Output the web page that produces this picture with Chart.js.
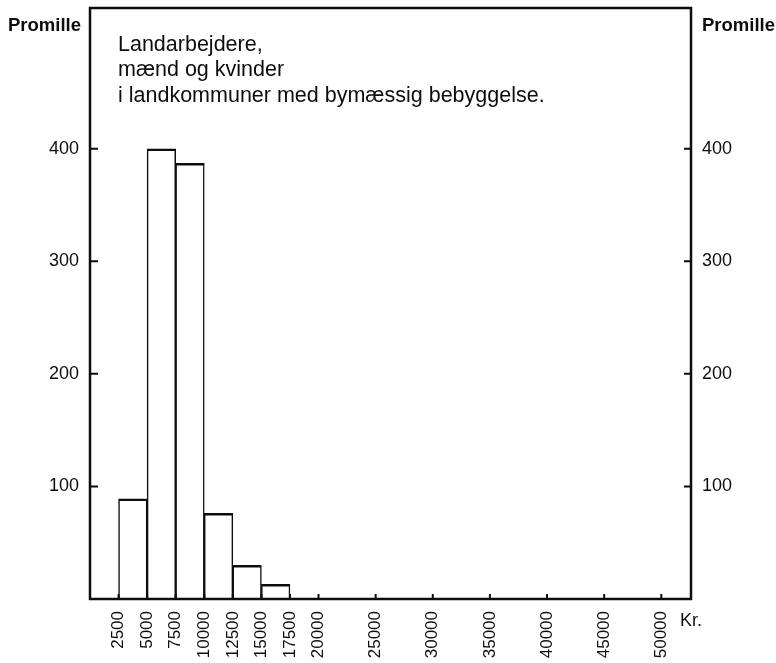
<!DOCTYPE html>
<html>
<head>
<meta charset="utf-8">
<script src="https://cdn.jsdelivr.net/npm/chart.js@4.4.1/dist/chart.umd.min.js"></script>
<style>
  html, body { margin: 0; padding: 0; background: #fff; }
  #wrap { width: 776px; height: 663px; position: relative; }
</style>
</head>
<body>
<div id="wrap"><canvas id="myChart"></canvas></div>
<script>
var binStarts = [2500, 5000, 7500, 10000, 12500, 15000];
var binWidth = 2500;
var promille = [89, 400, 387, 76, 30, 13];
var xTicks = [2500, 5000, 7500, 10000, 12500, 15000, 17500, 20000, 25000, 30000, 35000, 40000, 45000, 50000];
var yTicks = [100, 200, 300, 400];
var titleLines = ["Landarbejdere,", "mænd og kvinder", "i landkommuner med bymæssig bebyggelse."];

var ink = "#0d0d0d";
var fontFamily = "'Liberation Sans', Arial, Helvetica, sans-serif";

Chart.defaults.font.family = fontFamily;
Chart.defaults.color = ink;

// one point per bin, centred, so the bar spans the whole bin
var bars = binStarts.map(function (start, i) {
  return { x: start + binWidth / 2, y: promille[i] };
});

function fixTicks(values) {
  return function (scale) {
    scale.ticks = values.map(function (v) { return { value: v }; });
  };
}

// frame, inward tick marks and the loose texts
var frameAndTicks = {
  id: "frameAndTicks",
  afterDatasetsDraw: function (chart) {
    var ctx = chart.ctx;
    var a = chart.chartArea;
    var x = chart.scales.x, y = chart.scales.y, y2 = chart.scales.y2;
    ctx.save();
    ctx.strokeStyle = ink;
    ctx.lineWidth = 2.5;
    ctx.strokeRect(a.left, a.top, a.right - a.left, a.bottom - a.top);
    ctx.lineWidth = 2;
    ctx.beginPath();
    yTicks.forEach(function (v) {
      var py = y.getPixelForValue(v);
      ctx.moveTo(a.left, py);
      ctx.lineTo(a.left + 8, py);
      var py2 = y2.getPixelForValue(v);
      ctx.moveTo(a.right, py2);
      ctx.lineTo(a.right - 7, py2);
    });
    xTicks.forEach(function (v) {
      var px = x.getPixelForValue(v);
      ctx.moveTo(px, a.bottom);
      ctx.lineTo(px, a.bottom - 5);
    });
    ctx.stroke();

    ctx.fillStyle = ink;
    ctx.textBaseline = "middle";
    ctx.textAlign = "left";
    ctx.font = "bold 18.5px " + fontFamily;
    ctx.fillText("Promille", 8, 26);
    ctx.fillText("Promille", a.right + 11, 26);
    ctx.font = "21.5px " + fontFamily;
    titleLines.forEach(function (line, i) {
      ctx.fillText(line, a.left + 28, 45 + i * 25.5);
    });
    ctx.font = "18px " + fontFamily;
    ctx.fillText("Kr.", a.right - 11, 621);
    ctx.restore();
  }
};

var config = {
  type: "bar",
  data: {
    datasets: [
      {
        label: "Promille",
        data: bars,
        backgroundColor: "#fff",
        borderColor: ink,
        borderWidth: { top: 2.5, left: 1.5, right: 1.5, bottom: 0 },
        borderSkipped: false,
        barPercentage: 1,
        categoryPercentage: 1,
      },
    ],
  },
  options: {
    responsive: true,
    maintainAspectRatio: false,
    animation: false,
    layout: { padding: { top: 8, left: 0, right: 0, bottom: 0 } },
    plugins: { legend: { display: false }, tooltip: { enabled: false } },
    scales: {
      x: {
        type: "linear",
        offset: false,
        min: 0,
        max: 52600,
        grid: { display: false, drawTicks: false, offset: false },
        border: { display: false },
        afterBuildTicks: fixTicks(xTicks),
        ticks: {
          autoSkip: false,
          minRotation: 90,
          maxRotation: 90,
          padding: 12,
          font: { size: 17 },
          callback: function (v) { return String(v); },
        },
        afterFit: function (s) { s.height = 64; s.paddingLeft = 0; s.paddingRight = 0; },
      },
      y: {
        position: "left",
        min: 0,
        max: 525,
        grid: { display: false, drawTicks: false },
        border: { display: false },
        afterBuildTicks: fixTicks(yTicks),
        ticks: { padding: 11, font: { size: 18 } },
        afterFit: function (s) { s.width = 90; s.paddingTop = 0; s.paddingBottom = 0; },
      },
      y2: {
        position: "right",
        min: 0,
        max: 525,
        grid: { display: false, drawTicks: false },
        border: { display: false },
        afterBuildTicks: fixTicks(yTicks),
        ticks: { padding: 11, font: { size: 18 } },
        afterFit: function (s) { s.width = 85; s.paddingTop = 0; s.paddingBottom = 0; },
      },
    },
  },
  plugins: [frameAndTicks],
};

var myChart = new Chart(document.getElementById("myChart"), config);
</script>
</body>
</html>
